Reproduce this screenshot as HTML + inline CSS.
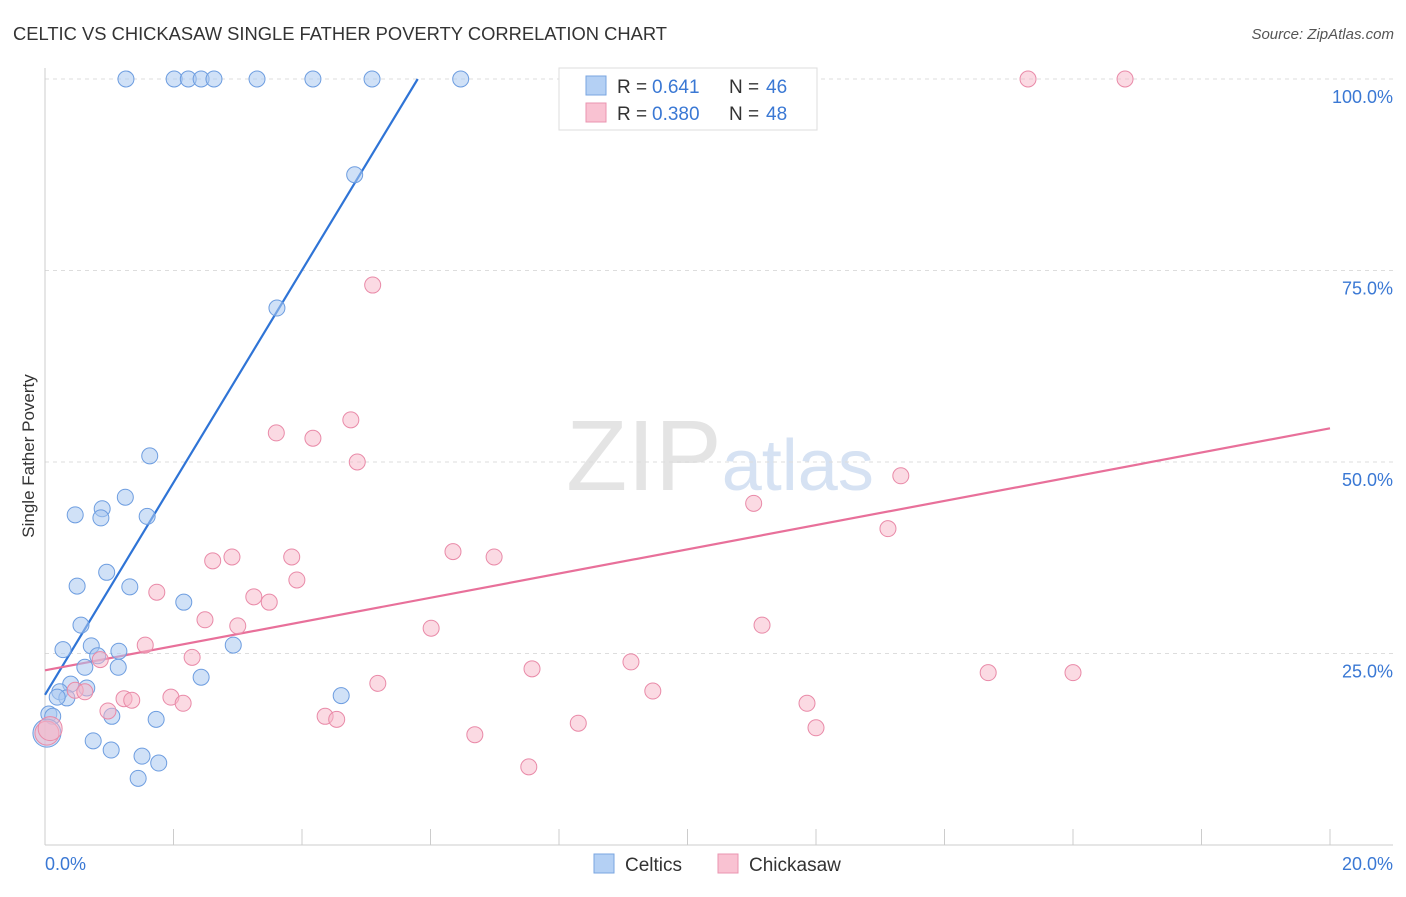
<!DOCTYPE html>
<html><head><meta charset="utf-8"><style>
body{margin:0;background:#fff;font-family:"Liberation Sans",sans-serif;}
svg text{font-family:"Liberation Sans",sans-serif;}
</style></head><body>
<svg id="chart" width="1406" height="892" xmlns="http://www.w3.org/2000/svg">
<text x="13" y="40" font-size="18.2" fill="#333" textLength="654" lengthAdjust="spacingAndGlyphs">CELTIC VS CHICKASAW SINGLE FATHER POVERTY CORRELATION CHART</text>
<text x="1394" y="39" font-size="15" fill="#555" text-anchor="end" font-style="italic">Source: ZipAtlas.com</text>
<text x="720" y="490" font-size="100" text-anchor="middle" fill="#e4e4e4" font-family="Liberation Serif">ZIP<tspan fill="#d6e2f3" font-family="Liberation Sans" font-size="72">atlas</tspan></text>
<text transform="translate(34,456) rotate(-90)" font-size="17" fill="#333" text-anchor="middle">Single Father Poverty</text>
<g id="grid"></g><g id="axes"></g><g id="lines"></g><g id="pts"></g>
<g>
<rect x="559" y="68" width="258" height="62" fill="#fff" stroke="#ddd"/>
<rect x="586" y="76" width="20" height="19" fill="#b4d0f4" stroke="#7aa6e0"/>
<text x="617" y="93" font-size="19" fill="#333">R =</text>
<text x="652" y="93" font-size="19" fill="#3a78d4">0.641</text>
<text x="729" y="93" font-size="19" fill="#333">N =</text>
<text x="766" y="93" font-size="19" fill="#3a78d4">46</text>
<rect x="586" y="103" width="20" height="19" fill="#f9c2d2" stroke="#ea94b0"/>
<text x="617" y="120" font-size="19" fill="#333">R =</text>
<text x="652" y="120" font-size="19" fill="#3a78d4">0.380</text>
<text x="729" y="120" font-size="19" fill="#333">N =</text>
<text x="766" y="120" font-size="19" fill="#3a78d4">48</text>
</g>
<g>
<rect x="594" y="854" width="20" height="19" fill="#b4d0f4" stroke="#7aa6e0"/>
<text x="625" y="871" font-size="19" fill="#333">Celtics</text>
<rect x="718" y="854" width="20" height="19" fill="#f9c2d2" stroke="#ea94b0"/>
<text x="749" y="871" font-size="19" fill="#333">Chickasaw</text>
</g>
<text x="45" y="870" font-size="18" fill="#3a78d4">0.0%</text>
<text x="1393" y="870" font-size="18" fill="#3a78d4" text-anchor="end">20.0%</text>
</svg>
<script>
const celticX=[1.26,2.01,2.23,2.43,2.63,3.30,4.17,5.09,6.47,4.82,3.61,1.63,1.25,0.89,0.47,0.87,1.59,0.96,0.50,1.32,2.16,0.56,0.28,0.72,0.82,1.15,0.62,1.14,2.93,2.43,0.40,0.65,0.23,0.34,0.19,4.61,1.04,0.06,0.12,1.73,0.75,1.03,1.51,1.77,1.45,0.03];
const celticY=[100,100,100,100,100,100,100,100,100,87.5,70.1,50.8,45.4,43.9,43.1,42.7,42.9,35.6,33.8,33.7,31.7,28.7,25.5,26.0,24.7,25.3,23.2,23.2,26.1,21.9,21.0,20.5,20.0,19.2,19.3,19.5,16.8,17.1,16.8,16.4,13.6,12.4,11.6,10.7,8.7,14.6];
const chickX=[15.30,16.81,5.10,4.76,3.60,4.17,4.86,13.32,11.03,13.12,6.35,6.99,2.91,2.61,3.84,3.92,1.74,3.25,3.49,2.49,3.00,6.01,11.16,1.56,2.29,9.12,7.58,14.68,16.0,0.86,5.18,0.47,0.62,9.46,1.96,1.23,1.35,2.15,11.86,0.98,4.36,4.54,8.30,12.0,6.69,7.53,0.03,0.08];
const chickY=[100,100,73.1,55.5,53.8,53.1,50.0,48.2,44.6,41.3,38.3,37.6,37.6,37.1,37.6,34.6,33.0,32.4,31.7,29.4,28.6,28.3,28.7,26.1,24.5,23.9,23.0,22.5,22.5,24.2,21.1,20.2,20.0,20.1,19.3,19.1,18.9,18.5,18.5,17.5,16.8,16.4,15.9,15.3,14.4,10.2,14.6,15.2];
const yTicks=[25,50,75,100];
const yTickLabels=["25.0%","50.0%","75.0%","100.0%"];
const celticFit=[19.6,13.86];
const chickFit=[22.8,1.58];
const NS="http://www.w3.org/2000/svg";
const sx=v=>45+v/20*1285;
const sy=v=>845-v*7.66;
function mk(tag,attrs,parent){const e=document.createElementNS(NS,tag);for(const k in attrs)e.setAttribute(k,attrs[k]);document.getElementById(parent).appendChild(e);return e;}
yTicks.forEach((t,i)=>{
 const g=mk('line',{x1:45,x2:1393,y1:sy(t),y2:sy(t),stroke:'#ddd','stroke-dasharray':'4,4'},'grid');
 
 
 const l=mk('text',{x:1393,y:sy(t)+24,'font-size':18,fill:'#3a78d4','text-anchor':'end'},'grid');
 l.textContent=yTickLabels[i];
 
 
});
const ax=mk('line',{x1:45,x2:1393,y1:845,y2:845,stroke:'#ccc'},'axes');


const ay=mk('line',{x1:45,x2:45,y1:68,y2:845,stroke:'#ccc'},'axes');


for(let i=0;i<=10;i++){const t=mk('line',{x1:sx(i*2),x2:sx(i*2),y1:829,y2:845,stroke:'#ccc'},'axes');
 
 }
const xEnd=(100-celticFit[0])/celticFit[1];
const bl=mk('line',{x1:sx(0),y1:sy(celticFit[0]),x2:sx(xEnd),y2:sy(100),stroke:'#2f74d6','stroke-width':2.2},'lines');


const pl=mk('line',{x1:sx(0),y1:sy(chickFit[0]),x2:sx(20),y2:sy(chickFit[0]+chickFit[1]*20),stroke:'#e8709a','stroke-width':2.2},'lines');


celticX.forEach((x,i)=>{const r=(i===celticX.length-1)?14:8;
 const c=mk('circle',{cx:sx(x),cy:sy(celticY[i]),r:r,fill:'#a9c8f0','fill-opacity':0.55,stroke:'#6d9de0','stroke-width':1},'pts');
 
 });
chickX.forEach((x,i)=>{const r=(i>=chickX.length-2)?12:8;
 const c=mk('circle',{cx:sx(x),cy:sy(chickY[i]),r:r,fill:'#f7b6c8','fill-opacity':0.5,stroke:'#e98aa8','stroke-width':1},'pts');
 
 });
</script>
</body></html>
